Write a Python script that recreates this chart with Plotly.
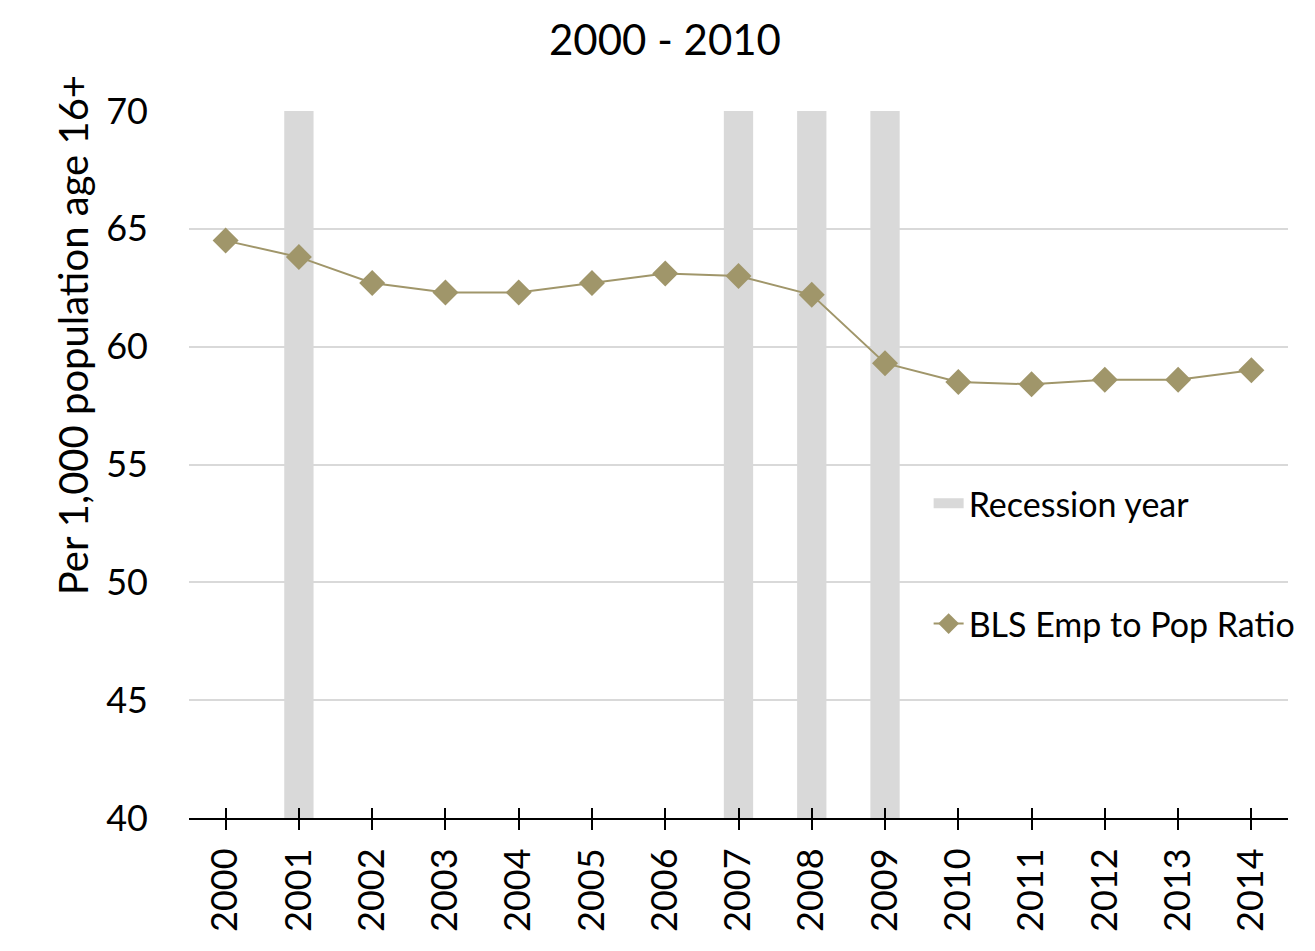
import plotly.graph_objects as go

years = [str(y) for y in range(2000, 2015)]
emp_pop = [64.5, 63.8, 62.7, 62.3, 62.3, 62.7, 63.1, 63.0, 62.2, 59.3, 58.5, 58.4, 58.6, 58.6, 59.0]
recession_years = ["2001", "2007", "2008", "2009"]
recession_level = [70, 70, 70, 70]

FONT = "Lato"
LINE_COLOR = "#A0966A"
BAR_COLOR = "#D9D9D9"

fig = go.Figure()
fig.add_trace(go.Bar(
    x=recession_years, y=recession_level, name="Recession year",
    marker=dict(color=BAR_COLOR, line=dict(width=0)), width=0.4,
    showlegend=False,
))
# legend entry for the recession bars (wide grey swatch)
fig.add_trace(go.Scatter(
    x=[None], y=[None], name="Recession year", mode="lines",
    line=dict(color=BAR_COLOR, width=10), legendgroup="a",
))
fig.add_trace(go.Scatter(
    x=years, y=emp_pop, name="BLS Emp to Pop Ratio", mode="lines+markers",
    line=dict(color=LINE_COLOR, width=2),
    marker=dict(symbol="diamond", size=20, color=LINE_COLOR),
    legendgroup="b",
))
# invisible trace for the upper half of crossing ticks
fig.add_trace(go.Scatter(x=years, y=[None]*len(years), xaxis="x2", showlegend=False, hoverinfo="skip"))

fig.update_layout(
    width=1315, height=951,
    margin=dict(l=181, r=35, t=103, b=141, autoexpand=False),
    paper_bgcolor="white", plot_bgcolor="white",
    font=dict(family=FONT, color="black", size=36),
    title=dict(text="2000 - 2010", x=0.4996, xanchor="center", y=0.966, yanchor="middle",
               font=dict(size=42, family=FONT)),
    showlegend=True,
    legend=dict(x=0.673, y=0.4855, xanchor="left", yanchor="top", tracegroupgap=73,
                font=dict(size=34, family=FONT), bgcolor="rgba(0,0,0,0)"),
    xaxis=dict(
        type="category", categoryorder="array", categoryarray=years,
        range=[-0.5, 14.5], showgrid=False, showline=True, linecolor="black", linewidth=2,
        ticks="outside", ticklen=10, tickwidth=2, tickcolor="black",
        tickangle=-90, tickfont=dict(size=36, family=FONT), ticklabelstandoff=4,
        automargin=False,
    ),
    xaxis2=dict(
        type="category", categoryorder="array", categoryarray=years,
        range=[-0.5, 14.5], overlaying="x", anchor="y", side="bottom",
        showgrid=False, showline=False, ticks="inside", ticklen=10, tickwidth=2,
        tickcolor="black", showticklabels=False,
    ),
    yaxis=dict(
        range=[40, 70], dtick=5, showgrid=True, gridcolor="#D9D9D9", gridwidth=2,
        zeroline=False, showline=False, ticks="", tickfont=dict(size=36, family=FONT),
        ticklabelstandoff=40, automargin=False,
    ),
    annotations=[dict(
        text="Per 1,000 population age 16+", textangle=-90,
        xref="paper", yref="paper", x=-0.1055, y=0.683, xanchor="center", yanchor="middle",
        showarrow=False, font=dict(size=40, family=FONT, color="black"),
    )],
)

fig.write_html("out.html")
